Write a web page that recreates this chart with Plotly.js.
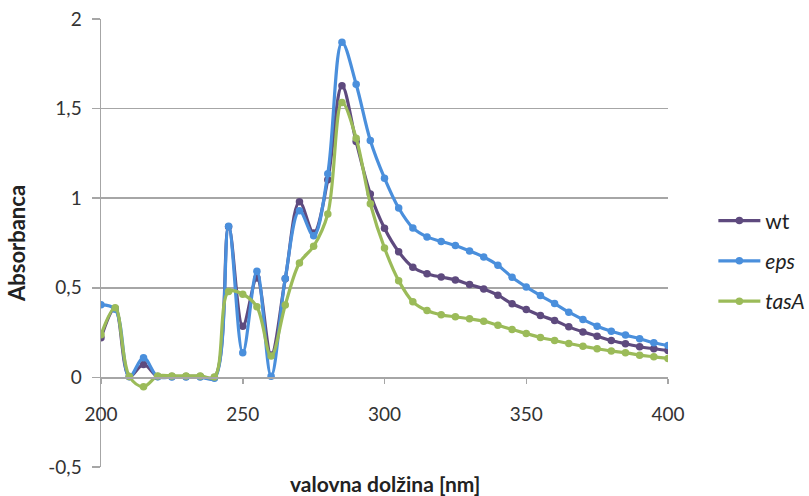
<!DOCTYPE html>
<html>
<head>
<meta charset="utf-8">
<script src="https://cdn.plot.ly/plotly-3.0.1.min.js"></script>
<style>html,body{margin:0;padding:0;background:#fff;}#chart{width:809px;height:496px;}</style>
</head>
<body>
<div id="chart"></div>
<script>
const wavelength = [200,205,210,215,220,225,230,235,240,245,250,255,260,265,270,275,280,285,290,295,300,305,310,315,320,325,330,335,340,345,350,355,360,365,370,375,380,385,390,395,400];
const wt = [0.221,0.385,0.005,0.072,0.005,0.005,0.005,0.005,0.000,0.840,0.286,0.555,0.125,0.550,0.980,0.806,1.103,1.627,1.316,1.023,0.832,0.701,0.615,0.579,0.560,0.544,0.518,0.494,0.459,0.411,0.379,0.345,0.318,0.282,0.254,0.230,0.206,0.188,0.171,0.160,0.150];
const eps = [0.405,0.380,0.003,0.110,0.003,0.002,0.002,0.002,-0.005,0.843,0.137,0.592,0.007,0.552,0.930,0.791,1.137,1.870,1.636,1.322,1.112,0.945,0.834,0.784,0.759,0.736,0.706,0.672,0.626,0.559,0.505,0.457,0.412,0.364,0.323,0.286,0.258,0.236,0.216,0.193,0.178];
const tasA = [0.238,0.388,0.005,-0.052,0.008,0.008,0.008,0.008,0.002,0.479,0.464,0.394,0.119,0.404,0.639,0.732,0.912,1.534,1.335,0.969,0.722,0.540,0.422,0.373,0.349,0.338,0.327,0.314,0.291,0.267,0.245,0.223,0.206,0.189,0.174,0.160,0.147,0.138,0.124,0.115,0.106];
const seriesNames = ['wt', '<i>eps</i>', '<i>tasA</i>'];
const yTickVals = [-0.5, 0, 0.5, 1, 1.5, 2];
const yTickText = ['-0,5', '0', '0,5', '1', '1,5', '2'];
const xTickVals = [200, 250, 300, 350, 400];
const xTickText = ['200', '250', '300', '350', '400'];

const colors = ['#5e4a7e', '#4a8fdc', '#9bbb59'];
const FONT = 'Lato, "Open Sans", sans-serif';

function mk(y, i) {
  return {
    x: wavelength, y: y, name: seriesNames[i], type: 'scatter', mode: 'lines+markers',
    line: {color: colors[i], width: 3.2, shape: 'spline', smoothing: 1},
    marker: {color: colors[i], size: 7.5},
    legendgroup: 'g' + i
  };
}

const data = [mk(wt, 0), mk(eps, 1), mk(tasA, 2)];

const layout = {
  width: 809, height: 496,
  margin: {l: 101, r: 141, t: 19, b: 29, pad: 0, autoexpand: false},
  paper_bgcolor: '#fff', plot_bgcolor: '#fff',
  font: {family: FONT, size: 19, color: '#333'},
  showlegend: true,
  legend: {x: 1.08, xanchor: 'left', y: 0.46, yanchor: 'middle', font: {size: 21, color: '#222'}, itemwidth: 42, tracegroupgap: 10, traceorder: 'grouped', bgcolor: 'rgba(0,0,0,0)'},
  xaxis: {
    range: [200, 400], anchor: 'free', position: 0.2,
    tickvals: xTickVals, ticktext: xTickText,
    showgrid: false, zeroline: false,
    showline: true, linecolor: '#a6a6a6', linewidth: 1.5,
    ticks: 'outside', ticklen: 5, tickcolor: '#a6a6a6', tickwidth: 1.5,
    ticklabelstandoff: 14,
    tickfont: {size: 19, color: '#333'}
  },
  yaxis: {
    range: [-0.5, 2],
    tickvals: yTickVals, ticktext: yTickText,
    showgrid: true, gridcolor: '#a6a6a6', gridwidth: 1.5,
    zeroline: false,
    showline: true, linecolor: '#a6a6a6', linewidth: 1.5,
    ticks: 'outside', ticklen: 8, tickcolor: '#a6a6a6', tickwidth: 1.5,
    ticklabelstandoff: 6,
    tickfont: {size: 19, color: '#333'},
    title: {text: 'Absorbanca', font: {size: 22, color: '#222', family: FONT, weight: 'bold'}, standoff: 16}
  },
  annotations: [{
    text: '<b>valovna dolžina [nm]</b>', xref: 'paper', yref: 'paper', x: 0.5, y: 0, yshift: -16,
    xanchor: 'center', yanchor: 'middle', showarrow: false,
    font: {size: 21, color: '#222', family: FONT}
  }]
};

Plotly.newPlot('chart', data, layout, {displayModeBar: false, staticPlot: true});
</script>
</body>
</html>
